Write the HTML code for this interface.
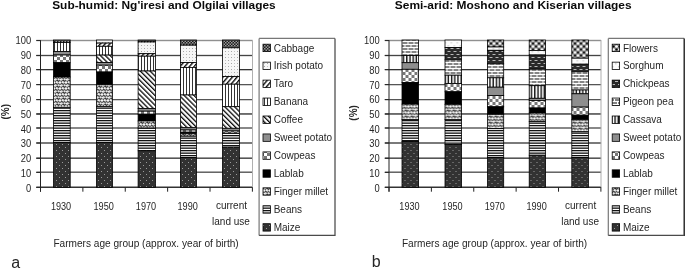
<!DOCTYPE html>
<html><head><meta charset="utf-8"><style>
html,body{margin:0;padding:0;background:#fff;}
svg{display:block;filter:grayscale(1);}
text{font-family:"Liberation Sans", sans-serif;fill:#262626;}
.b{fill:#0a0a0a;}
</style></head><body>
<svg width="685" height="268" viewBox="0 0 685 268" xmlns="http://www.w3.org/2000/svg">
<defs>
<pattern id="maize" patternUnits="userSpaceOnUse" width="6" height="6">
  <rect width="6" height="6" fill="#323232"/>
  <rect x="2" y="0" width="1" height="1" fill="#9a9a9a"/>
  <rect x="5" y="3" width="1" height="1" fill="#9a9a9a"/>
</pattern>
<pattern id="beans" patternUnits="userSpaceOnUse" width="5" height="5">
  <rect width="5" height="5" fill="#fff"/>
  <rect x="0" y="0" width="5" height="1.3" fill="#111"/>
  <rect x="0" y="2.5" width="5" height="1.3" fill="#111"/>
</pattern>
<pattern id="millet" patternUnits="userSpaceOnUse" width="6" height="6">
  <rect width="6" height="6" fill="#333"/>
  <ellipse cx="1.4" cy="1.5" rx="1.55" ry="1.2" transform="rotate(-30 1.4 1.5)" fill="#f6f6f6"/>
  <ellipse cx="4.6" cy="1.3" rx="1.3" ry="1.1" transform="rotate(20 4.6 1.3)" fill="#e4e4e4"/>
  <ellipse cx="0" cy="4.5" rx="1.4" ry="1.3" fill="#f6f6f6"/>
  <ellipse cx="6" cy="4.5" rx="1.4" ry="1.3" fill="#f6f6f6"/>
  <ellipse cx="3.1" cy="4.4" rx="1.5" ry="1.15" transform="rotate(35 3.1 4.4)" fill="#f0f0f0"/>
  <circle cx="1.9" cy="2.0" r="0.5" fill="#999"/>
  <circle cx="3.6" cy="5.0" r="0.45" fill="#999"/>
</pattern>
<pattern id="cowpeas" patternUnits="userSpaceOnUse" width="6" height="6">
  <rect width="6" height="6" fill="#fff"/>
  <rect x="0" y="0" width="3" height="3" fill="#777"/>
  <rect x="3" y="3" width="3" height="3" fill="#777"/>
</pattern>
<pattern id="sweet" patternUnits="userSpaceOnUse" width="4" height="4">
  <rect width="4" height="4" fill="#8e8e8e"/>
</pattern>
<pattern id="coffee" patternUnits="userSpaceOnUse" width="3.45" height="10" patternTransform="rotate(-45)">
  <rect width="3.45" height="10" fill="#fff"/>
  <rect x="0" y="0" width="1.3" height="10" fill="#0a0a0a"/>
</pattern>
<pattern id="taro" patternUnits="userSpaceOnUse" width="3.6" height="10" patternTransform="rotate(40)">
  <rect width="3.6" height="10" fill="#fff"/>
  <rect x="0" y="0" width="1.4" height="10" fill="#0a0a0a"/>
</pattern>
<pattern id="banana" patternUnits="userSpaceOnUse" width="6" height="4">
  <rect width="6" height="4" fill="#fff"/>
  <rect x="0" y="0" width="1" height="4" fill="#333"/>
  <rect x="3" y="0" width="1" height="4" fill="#333"/>
</pattern>
<pattern id="cassava" patternUnits="userSpaceOnUse" width="6.4" height="4">
  <rect width="6.4" height="4" fill="#fff"/>
  <rect x="0" y="0" width="1.4" height="4" fill="#111"/>
  <rect x="3.2" y="0" width="1.4" height="4" fill="#111"/>
</pattern>
<pattern id="irish" patternUnits="userSpaceOnUse" width="6" height="6">
  <rect width="6" height="6" fill="#f6f6f6"/>
  <rect x="0" y="0" width="1" height="1" fill="#a4a4a4"/>
  <rect x="3" y="3" width="1" height="1" fill="#a4a4a4"/>
  <rect x="3" y="0" width="1" height="1" fill="#c4c4c4"/>
  <rect x="0" y="3" width="1" height="1" fill="#c4c4c4"/>
</pattern>
<pattern id="sorghum" patternUnits="userSpaceOnUse" width="6" height="6">
  <rect width="6" height="6" fill="#fbfbfb"/>
  <rect x="0" y="0" width="1.5" height="1.5" fill="#d4d4d4"/>
  <rect x="3" y="3" width="1.5" height="1.5" fill="#d4d4d4"/>
</pattern>
<pattern id="cabbage" patternUnits="userSpaceOnUse" width="3" height="3">
  <rect width="3" height="3" fill="#1c1c1c"/>
  <rect x="0" y="0" width="1.5" height="1.5" fill="#9a9a9a"/>
  <rect x="1.5" y="1.5" width="1.5" height="1.5" fill="#9a9a9a"/>
</pattern>
<pattern id="flowers" patternUnits="userSpaceOnUse" width="6" height="6">
  <rect width="6" height="6" fill="#808080"/>
  <circle cx="1.5" cy="1.5" r="1.35" fill="#fff"/>
  <circle cx="4.5" cy="4.5" r="1.35" fill="#fff"/>
  <circle cx="4.5" cy="1.5" r="1.1" fill="#000"/>
  <circle cx="1.5" cy="4.5" r="1.1" fill="#000"/>
</pattern>
<pattern id="chick" patternUnits="userSpaceOnUse" width="6" height="6">
  <rect width="6" height="6" fill="#2a2a2a"/>
  <rect x="0" y="0" width="3" height="1" fill="#b8b8b8"/>
  <rect x="3" y="3" width="3" height="1" fill="#b8b8b8"/>
</pattern>
<pattern id="pigeon" patternUnits="userSpaceOnUse" width="6" height="6">
  <rect width="6" height="6" fill="#fff"/>
  <rect x="0" y="0" width="5" height="2" fill="#858585"/>
  <rect x="0" y="3" width="2" height="2" fill="#858585"/>
  <rect x="3" y="3" width="3" height="2" fill="#858585"/>
</pattern>
<pattern id="lablab" patternUnits="userSpaceOnUse" width="4" height="4">
  <rect width="4" height="4" fill="#000"/>
</pattern>
</defs>
<rect width="685" height="268" fill="#fff"/>
<g transform="translate(0,0)">
<rect x="36.3" y="40" width="216.3" height="1" fill="#909090"/>
<rect x="36.3" y="39" width="216.3" height="1" fill="#e8e8e8"/>
<rect x="36.3" y="41" width="216.3" height="1" fill="#e8e8e8"/>
<rect x="36.3" y="55" width="216.3" height="1" fill="#444"/>
<rect x="36.3" y="54" width="216.3" height="1" fill="#e0e0e0"/>
<rect x="36.3" y="56" width="216.3" height="1" fill="#e0e0e0"/>
<rect x="36.3" y="69" width="216.3" height="1" fill="#333"/>
<rect x="36.3" y="70" width="216.3" height="1" fill="#c0c0c0"/>
<rect x="36.3" y="84" width="216.3" height="1" fill="#555"/>
<rect x="36.3" y="85" width="216.3" height="1" fill="#d0d0d0"/>
<rect x="36.3" y="99" width="216.3" height="1" fill="#555"/>
<rect x="36.3" y="100" width="216.3" height="1" fill="#d0d0d0"/>
<rect x="36.3" y="113" width="216.3" height="1" fill="#6a6a6a"/>
<rect x="36.3" y="114" width="216.3" height="1" fill="#7a7a7a"/>
<rect x="36.3" y="127" width="216.3" height="1" fill="#888"/>
<rect x="36.3" y="128" width="216.3" height="1" fill="#888"/>
<rect x="36.3" y="142" width="216.3" height="1" fill="#7a7a7a"/>
<rect x="36.3" y="143" width="216.3" height="1" fill="#7a7a7a"/>
<rect x="36.3" y="157" width="216.3" height="1" fill="#999"/>
<rect x="36.3" y="158" width="216.3" height="1" fill="#555"/>
<rect x="36.3" y="171" width="216.3" height="1" fill="#aaa"/>
<rect x="36.3" y="172" width="216.3" height="1" fill="#666"/>
<rect x="36.3" y="186" width="216.3" height="1" fill="#999"/>
<rect x="36.3" y="187" width="216.3" height="1" fill="#333"/>
<line x1="36.3" x2="40.5" y1="40.5" y2="40.5" stroke="#2a2a2a" stroke-width="1"/>
<line x1="36.3" x2="40.5" y1="55.5" y2="55.5" stroke="#2a2a2a" stroke-width="1"/>
<line x1="36.3" x2="40.5" y1="69.5" y2="69.5" stroke="#2a2a2a" stroke-width="1"/>
<line x1="36.3" x2="40.5" y1="84.5" y2="84.5" stroke="#2a2a2a" stroke-width="1"/>
<line x1="36.3" x2="40.5" y1="99.5" y2="99.5" stroke="#2a2a2a" stroke-width="1"/>
<line x1="36.3" x2="40.5" y1="114" y2="114" stroke="#2a2a2a" stroke-width="1"/>
<line x1="36.3" x2="40.5" y1="128" y2="128" stroke="#2a2a2a" stroke-width="1"/>
<line x1="36.3" x2="40.5" y1="143" y2="143" stroke="#2a2a2a" stroke-width="1"/>
<line x1="36.3" x2="40.5" y1="158.3" y2="158.3" stroke="#2a2a2a" stroke-width="1"/>
<line x1="36.3" x2="40.5" y1="172.5" y2="172.5" stroke="#2a2a2a" stroke-width="1"/>
<line x1="36.3" x2="40.5" y1="187.5" y2="187.5" stroke="#2a2a2a" stroke-width="1"/>
<rect x="252" y="40.2" width="1" height="147.1" fill="#b0b0b0"/>
<line x1="40.5" x2="40.5" y1="40.2" y2="191.7" stroke="#222" stroke-width="1"/>
<line x1="40.5" x2="40.5" y1="187.3" y2="191.7" stroke="#222" stroke-width="1"/>
<line x1="82.88" x2="82.88" y1="187.3" y2="191.7" stroke="#222" stroke-width="1"/>
<line x1="125.26" x2="125.26" y1="187.3" y2="191.7" stroke="#222" stroke-width="1"/>
<line x1="167.64" x2="167.64" y1="187.3" y2="191.7" stroke="#222" stroke-width="1"/>
<line x1="210.02" x2="210.02" y1="187.3" y2="191.7" stroke="#222" stroke-width="1"/>
<line x1="252.4" x2="252.4" y1="187.3" y2="191.7" stroke="#222" stroke-width="1"/>
<rect x="53.5" y="40" width="16.7" height="2.5" fill="url(#cabbage)" stroke="#000" stroke-width="0.8"/>
<rect x="53.5" y="42.5" width="16.7" height="9" fill="url(#banana)" stroke="#000" stroke-width="0.8"/>
<rect x="53.5" y="51.5" width="16.7" height="3.5" fill="url(#sweet)" stroke="#000" stroke-width="0.8"/>
<rect x="53.5" y="55" width="16.7" height="7.7" fill="url(#cowpeas)" stroke="#000" stroke-width="0.8"/>
<rect x="53.5" y="62.7" width="16.7" height="14.3" fill="url(#lablab)" stroke="#000" stroke-width="0.8"/>
<rect x="53.5" y="77" width="16.7" height="30.3" fill="url(#millet)" stroke="#000" stroke-width="0.8"/>
<rect x="53.5" y="107.3" width="16.7" height="35.2" fill="url(#beans)" stroke="#000" stroke-width="0.8"/>
<rect x="53.5" y="142.5" width="16.7" height="44.8" fill="url(#maize)" stroke="#000" stroke-width="0.8"/>
<rect x="96.5" y="40" width="15.9" height="3.1" fill="url(#irish)" stroke="#000" stroke-width="0.8"/>
<rect x="96.5" y="43.1" width="15.9" height="3.2" fill="url(#taro)" stroke="#000" stroke-width="0.8"/>
<rect x="96.5" y="46.3" width="15.9" height="8.8" fill="url(#banana)" stroke="#000" stroke-width="0.8"/>
<rect x="96.5" y="55.1" width="15.9" height="7.5" fill="url(#coffee)" stroke="#000" stroke-width="0.8"/>
<rect x="96.5" y="62.6" width="15.9" height="2.6" fill="url(#sweet)" stroke="#000" stroke-width="0.8"/>
<rect x="96.5" y="65.2" width="15.9" height="6.8" fill="url(#cowpeas)" stroke="#000" stroke-width="0.8"/>
<rect x="96.5" y="72" width="15.9" height="12.8" fill="url(#lablab)" stroke="#000" stroke-width="0.8"/>
<rect x="96.5" y="84.8" width="15.9" height="21.9" fill="url(#millet)" stroke="#000" stroke-width="0.8"/>
<rect x="96.5" y="106.7" width="15.9" height="35.8" fill="url(#beans)" stroke="#000" stroke-width="0.8"/>
<rect x="96.5" y="142.5" width="15.9" height="44.8" fill="url(#maize)" stroke="#000" stroke-width="0.8"/>
<rect x="138.1" y="40" width="17.4" height="2" fill="url(#cabbage)" stroke="#000" stroke-width="0.8"/>
<rect x="138.1" y="42" width="17.4" height="11.7" fill="url(#irish)" stroke="#000" stroke-width="0.8"/>
<rect x="138.1" y="53.7" width="17.4" height="2.5" fill="url(#taro)" stroke="#000" stroke-width="0.8"/>
<rect x="138.1" y="56.2" width="17.4" height="14.8" fill="url(#banana)" stroke="#000" stroke-width="0.8"/>
<rect x="138.1" y="71" width="17.4" height="37.6" fill="url(#coffee)" stroke="#000" stroke-width="0.8"/>
<rect x="138.1" y="108.6" width="17.4" height="2.6" fill="url(#sweet)" stroke="#000" stroke-width="0.8"/>
<rect x="138.1" y="111.2" width="17.4" height="3" fill="url(#cowpeas)" stroke="#000" stroke-width="0.8"/>
<rect x="138.1" y="114.2" width="17.4" height="6.8" fill="url(#lablab)" stroke="#000" stroke-width="0.8"/>
<rect x="138.1" y="121" width="17.4" height="7.1" fill="url(#millet)" stroke="#000" stroke-width="0.8"/>
<rect x="138.1" y="128.1" width="17.4" height="22.7" fill="url(#beans)" stroke="#000" stroke-width="0.8"/>
<rect x="138.1" y="150.8" width="17.4" height="36.5" fill="url(#maize)" stroke="#000" stroke-width="0.8"/>
<rect x="180.5" y="40" width="16" height="5.2" fill="url(#cabbage)" stroke="#000" stroke-width="0.8"/>
<rect x="180.5" y="45.2" width="16" height="17.3" fill="url(#irish)" stroke="#000" stroke-width="0.8"/>
<rect x="180.5" y="62.5" width="16" height="4.9" fill="url(#taro)" stroke="#000" stroke-width="0.8"/>
<rect x="180.5" y="67.4" width="16" height="27.6" fill="url(#banana)" stroke="#000" stroke-width="0.8"/>
<rect x="180.5" y="95" width="16" height="32.7" fill="url(#coffee)" stroke="#000" stroke-width="0.8"/>
<rect x="180.5" y="127.7" width="16" height="2.3" fill="url(#sweet)" stroke="#000" stroke-width="0.8"/>
<rect x="180.5" y="130" width="16" height="2.2" fill="url(#cowpeas)" stroke="#000" stroke-width="0.8"/>
<rect x="180.5" y="132.2" width="16" height="1.4" fill="url(#lablab)" stroke="#000" stroke-width="0.8"/>
<rect x="180.5" y="133.6" width="16" height="2.6" fill="url(#millet)" stroke="#000" stroke-width="0.8"/>
<rect x="180.5" y="136.2" width="16" height="21.4" fill="url(#beans)" stroke="#000" stroke-width="0.8"/>
<rect x="180.5" y="157.6" width="16" height="29.7" fill="url(#maize)" stroke="#000" stroke-width="0.8"/>
<rect x="222.5" y="40" width="16.9" height="7.8" fill="url(#cabbage)" stroke="#000" stroke-width="0.8"/>
<rect x="222.5" y="47.8" width="16.9" height="28.8" fill="url(#irish)" stroke="#000" stroke-width="0.8"/>
<rect x="222.5" y="76.6" width="16.9" height="7.6" fill="url(#taro)" stroke="#000" stroke-width="0.8"/>
<rect x="222.5" y="84.2" width="16.9" height="22.5" fill="url(#banana)" stroke="#000" stroke-width="0.8"/>
<rect x="222.5" y="106.7" width="16.9" height="21.6" fill="url(#coffee)" stroke="#000" stroke-width="0.8"/>
<rect x="222.5" y="128.3" width="16.9" height="2.7" fill="url(#sweet)" stroke="#000" stroke-width="0.8"/>
<rect x="222.5" y="131" width="16.9" height="2.2" fill="url(#cowpeas)" stroke="#000" stroke-width="0.8"/>
<rect x="222.5" y="133.2" width="16.9" height="14" fill="url(#beans)" stroke="#000" stroke-width="0.8"/>
<rect x="222.5" y="147.2" width="16.9" height="40.1" fill="url(#maize)" stroke="#000" stroke-width="0.8"/>
<text x="31.1" y="191.5" text-anchor="end" font-size="10.4" textLength="5.2" lengthAdjust="spacingAndGlyphs">0</text>
<text x="31.1" y="176.79" text-anchor="end" font-size="10.4" textLength="10.41" lengthAdjust="spacingAndGlyphs">10</text>
<text x="31.1" y="162.08" text-anchor="end" font-size="10.4" textLength="10.41" lengthAdjust="spacingAndGlyphs">20</text>
<text x="31.1" y="147.37" text-anchor="end" font-size="10.4" textLength="10.41" lengthAdjust="spacingAndGlyphs">30</text>
<text x="31.1" y="132.66" text-anchor="end" font-size="10.4" textLength="10.41" lengthAdjust="spacingAndGlyphs">40</text>
<text x="31.1" y="117.95" text-anchor="end" font-size="10.4" textLength="10.41" lengthAdjust="spacingAndGlyphs">50</text>
<text x="31.1" y="103.24" text-anchor="end" font-size="10.4" textLength="10.41" lengthAdjust="spacingAndGlyphs">60</text>
<text x="31.1" y="88.53" text-anchor="end" font-size="10.4" textLength="10.41" lengthAdjust="spacingAndGlyphs">70</text>
<text x="31.1" y="73.82" text-anchor="end" font-size="10.4" textLength="10.41" lengthAdjust="spacingAndGlyphs">80</text>
<text x="31.1" y="59.11" text-anchor="end" font-size="10.4" textLength="10.41" lengthAdjust="spacingAndGlyphs">90</text>
<text x="31.1" y="44.4" text-anchor="end" font-size="10.4" textLength="15.62" lengthAdjust="spacingAndGlyphs">100</text>
<text x="61.05" y="209.6" text-anchor="middle" font-size="10.4" textLength="20.3" lengthAdjust="spacingAndGlyphs">1930</text>
<text x="103.65" y="209.6" text-anchor="middle" font-size="10.4" textLength="20.3" lengthAdjust="spacingAndGlyphs">1950</text>
<text x="146" y="209.6" text-anchor="middle" font-size="10.4" textLength="20.3" lengthAdjust="spacingAndGlyphs">1970</text>
<text x="187.7" y="209.6" text-anchor="middle" font-size="10.4" textLength="20.3" lengthAdjust="spacingAndGlyphs">1990</text>
<text x="231.45" y="209.3" text-anchor="middle" font-size="10">current</text>
<text x="230.95" y="224.8" text-anchor="middle" font-size="10">land use</text>
<text x="53.4" y="246.8" font-size="10" textLength="185.3" lengthAdjust="spacingAndGlyphs">Farmers age group (approx. year of birth)</text>
</g>
<text x="52.2" y="8.6" font-size="11.8" font-weight="bold" class="b" textLength="223.5" lengthAdjust="spacingAndGlyphs">Sub-humid: Ng&#39;iresi and Olgilai villages</text>
<line x1="259.1" x2="335" y1="38.4" y2="38.4" stroke="#777" stroke-width="1.2"/>
<line x1="259.1" x2="259.1" y1="38.4" y2="235.4" stroke="#777" stroke-width="1.2"/>
<line x1="335" x2="335" y1="38.4" y2="236" stroke="#505050" stroke-width="1.3"/>
<line x1="259.1" x2="335" y1="235.4" y2="235.4" stroke="#4a4a4a" stroke-width="1.3"/>
<rect x="263" y="44.2" width="7.4" height="7.4" fill="url(#cabbage)" stroke="#000" stroke-width="0.8"/>
<text x="273.7" y="51.5" font-size="10">Cabbage</text>
<rect x="263" y="62.15" width="7.4" height="7.4" fill="url(#irish)" stroke="#000" stroke-width="0.8"/>
<text x="273.7" y="69.45" font-size="10">Irish potato</text>
<rect x="263" y="80.1" width="7.4" height="7.4" fill="url(#taro)" stroke="#000" stroke-width="0.8"/>
<text x="273.7" y="87.4" font-size="10">Taro</text>
<rect x="263" y="98.05" width="7.4" height="7.4" fill="url(#banana)" stroke="#000" stroke-width="0.8"/>
<text x="273.7" y="105.35" font-size="10">Banana</text>
<rect x="263" y="116" width="7.4" height="7.4" fill="url(#coffee)" stroke="#000" stroke-width="0.8"/>
<text x="273.7" y="123.3" font-size="10">Coffee</text>
<rect x="263" y="133.95" width="7.4" height="7.4" fill="url(#sweet)" stroke="#000" stroke-width="0.8"/>
<text x="273.7" y="141.25" font-size="10">Sweet potato</text>
<rect x="263" y="151.9" width="7.4" height="7.4" fill="url(#cowpeas)" stroke="#000" stroke-width="0.8"/>
<text x="273.7" y="159.2" font-size="10">Cowpeas</text>
<rect x="263" y="169.85" width="7.4" height="7.4" fill="url(#lablab)" stroke="#000" stroke-width="0.8"/>
<text x="273.7" y="177.15" font-size="10">Lablab</text>
<rect x="263" y="187.8" width="7.4" height="7.4" fill="url(#millet)" stroke="#000" stroke-width="0.8"/>
<text x="273.7" y="195.1" font-size="10">Finger millet</text>
<rect x="263" y="205.75" width="7.4" height="7.4" fill="url(#beans)" stroke="#000" stroke-width="0.8"/>
<text x="273.7" y="213.05" font-size="10">Beans</text>
<rect x="263" y="223.7" width="7.4" height="7.4" fill="url(#maize)" stroke="#000" stroke-width="0.8"/>
<text x="273.7" y="231" font-size="10">Maize</text>
<text x="11.3" y="267.6" font-size="16">a</text>
<text transform="translate(9.3,111.7) rotate(-90)" text-anchor="middle" font-size="10" font-weight="bold">(%)</text>
<g transform="translate(348.5,0)">
<rect x="36.3" y="40" width="216.3" height="1" fill="#909090"/>
<rect x="36.3" y="39" width="216.3" height="1" fill="#e8e8e8"/>
<rect x="36.3" y="41" width="216.3" height="1" fill="#e8e8e8"/>
<rect x="36.3" y="55" width="216.3" height="1" fill="#444"/>
<rect x="36.3" y="54" width="216.3" height="1" fill="#e0e0e0"/>
<rect x="36.3" y="56" width="216.3" height="1" fill="#e0e0e0"/>
<rect x="36.3" y="69" width="216.3" height="1" fill="#333"/>
<rect x="36.3" y="70" width="216.3" height="1" fill="#c0c0c0"/>
<rect x="36.3" y="84" width="216.3" height="1" fill="#555"/>
<rect x="36.3" y="85" width="216.3" height="1" fill="#d0d0d0"/>
<rect x="36.3" y="99" width="216.3" height="1" fill="#555"/>
<rect x="36.3" y="100" width="216.3" height="1" fill="#d0d0d0"/>
<rect x="36.3" y="113" width="216.3" height="1" fill="#6a6a6a"/>
<rect x="36.3" y="114" width="216.3" height="1" fill="#7a7a7a"/>
<rect x="36.3" y="127" width="216.3" height="1" fill="#888"/>
<rect x="36.3" y="128" width="216.3" height="1" fill="#888"/>
<rect x="36.3" y="142" width="216.3" height="1" fill="#7a7a7a"/>
<rect x="36.3" y="143" width="216.3" height="1" fill="#7a7a7a"/>
<rect x="36.3" y="157" width="216.3" height="1" fill="#999"/>
<rect x="36.3" y="158" width="216.3" height="1" fill="#555"/>
<rect x="36.3" y="171" width="216.3" height="1" fill="#aaa"/>
<rect x="36.3" y="172" width="216.3" height="1" fill="#666"/>
<rect x="36.3" y="186" width="216.3" height="1" fill="#999"/>
<rect x="36.3" y="187" width="216.3" height="1" fill="#333"/>
<line x1="36.3" x2="40.5" y1="40.5" y2="40.5" stroke="#2a2a2a" stroke-width="1"/>
<line x1="36.3" x2="40.5" y1="55.5" y2="55.5" stroke="#2a2a2a" stroke-width="1"/>
<line x1="36.3" x2="40.5" y1="69.5" y2="69.5" stroke="#2a2a2a" stroke-width="1"/>
<line x1="36.3" x2="40.5" y1="84.5" y2="84.5" stroke="#2a2a2a" stroke-width="1"/>
<line x1="36.3" x2="40.5" y1="99.5" y2="99.5" stroke="#2a2a2a" stroke-width="1"/>
<line x1="36.3" x2="40.5" y1="114" y2="114" stroke="#2a2a2a" stroke-width="1"/>
<line x1="36.3" x2="40.5" y1="128" y2="128" stroke="#2a2a2a" stroke-width="1"/>
<line x1="36.3" x2="40.5" y1="143" y2="143" stroke="#2a2a2a" stroke-width="1"/>
<line x1="36.3" x2="40.5" y1="158.3" y2="158.3" stroke="#2a2a2a" stroke-width="1"/>
<line x1="36.3" x2="40.5" y1="172.5" y2="172.5" stroke="#2a2a2a" stroke-width="1"/>
<line x1="36.3" x2="40.5" y1="187.5" y2="187.5" stroke="#2a2a2a" stroke-width="1"/>
<rect x="252" y="40.2" width="1" height="147.1" fill="#b0b0b0"/>
<line x1="40.5" x2="40.5" y1="40.2" y2="191.7" stroke="#222" stroke-width="1"/>
<line x1="40.5" x2="40.5" y1="187.3" y2="191.7" stroke="#222" stroke-width="1"/>
<line x1="82.88" x2="82.88" y1="187.3" y2="191.7" stroke="#222" stroke-width="1"/>
<line x1="125.26" x2="125.26" y1="187.3" y2="191.7" stroke="#222" stroke-width="1"/>
<line x1="167.64" x2="167.64" y1="187.3" y2="191.7" stroke="#222" stroke-width="1"/>
<line x1="210.02" x2="210.02" y1="187.3" y2="191.7" stroke="#222" stroke-width="1"/>
<line x1="252.4" x2="252.4" y1="187.3" y2="191.7" stroke="#222" stroke-width="1"/>
<rect x="53.5" y="40" width="16.6" height="15.6" fill="url(#pigeon)" stroke="#000" stroke-width="0.8"/>
<rect x="53.5" y="55.6" width="16.6" height="7.1" fill="url(#cassava)" stroke="#000" stroke-width="0.8"/>
<rect x="53.5" y="62.7" width="16.6" height="6.6" fill="url(#sweet)" stroke="#000" stroke-width="0.8"/>
<rect x="53.5" y="69.3" width="16.6" height="13.3" fill="url(#cowpeas)" stroke="#000" stroke-width="0.8"/>
<rect x="53.5" y="82.6" width="16.6" height="21.5" fill="url(#lablab)" stroke="#000" stroke-width="0.8"/>
<rect x="53.5" y="104.1" width="16.6" height="15.4" fill="url(#millet)" stroke="#000" stroke-width="0.8"/>
<rect x="53.5" y="119.5" width="16.6" height="22" fill="url(#beans)" stroke="#000" stroke-width="0.8"/>
<rect x="53.5" y="141.5" width="16.6" height="45.8" fill="url(#maize)" stroke="#000" stroke-width="0.8"/>
<rect x="96.5" y="40" width="16.6" height="7.4" fill="url(#sorghum)" stroke="#000" stroke-width="0.8"/>
<rect x="96.5" y="47.4" width="16.6" height="12.4" fill="url(#chick)" stroke="#000" stroke-width="0.8"/>
<rect x="96.5" y="59.8" width="16.6" height="15.4" fill="url(#pigeon)" stroke="#000" stroke-width="0.8"/>
<rect x="96.5" y="75.2" width="16.6" height="8.4" fill="url(#cassava)" stroke="#000" stroke-width="0.8"/>
<rect x="96.5" y="83.6" width="16.6" height="8.2" fill="url(#cowpeas)" stroke="#000" stroke-width="0.8"/>
<rect x="96.5" y="91.8" width="16.6" height="12.5" fill="url(#lablab)" stroke="#000" stroke-width="0.8"/>
<rect x="96.5" y="104.3" width="16.6" height="15.1" fill="url(#millet)" stroke="#000" stroke-width="0.8"/>
<rect x="96.5" y="119.4" width="16.6" height="25.1" fill="url(#beans)" stroke="#000" stroke-width="0.8"/>
<rect x="96.5" y="144.5" width="16.6" height="42.8" fill="url(#maize)" stroke="#000" stroke-width="0.8"/>
<rect x="139" y="40" width="16.2" height="7" fill="url(#flowers)" stroke="#000" stroke-width="0.8"/>
<rect x="139" y="47" width="16.2" height="3.3" fill="url(#sorghum)" stroke="#000" stroke-width="0.8"/>
<rect x="139" y="50.3" width="16.2" height="13.5" fill="url(#chick)" stroke="#000" stroke-width="0.8"/>
<rect x="139" y="63.8" width="16.2" height="14" fill="url(#pigeon)" stroke="#000" stroke-width="0.8"/>
<rect x="139" y="77.8" width="16.2" height="9.4" fill="url(#cassava)" stroke="#000" stroke-width="0.8"/>
<rect x="139" y="87.2" width="16.2" height="8.4" fill="url(#sweet)" stroke="#000" stroke-width="0.8"/>
<rect x="139" y="95.6" width="16.2" height="11.2" fill="url(#cowpeas)" stroke="#000" stroke-width="0.8"/>
<rect x="139" y="106.8" width="16.2" height="7.5" fill="url(#lablab)" stroke="#000" stroke-width="0.8"/>
<rect x="139" y="114.3" width="16.2" height="14.4" fill="url(#millet)" stroke="#000" stroke-width="0.8"/>
<rect x="139" y="128.7" width="16.2" height="28.8" fill="url(#beans)" stroke="#000" stroke-width="0.8"/>
<rect x="139" y="157.5" width="16.2" height="29.8" fill="url(#maize)" stroke="#000" stroke-width="0.8"/>
<rect x="180.7" y="40" width="16.4" height="10.5" fill="url(#flowers)" stroke="#000" stroke-width="0.8"/>
<rect x="180.7" y="50.5" width="16.4" height="4.5" fill="url(#sorghum)" stroke="#000" stroke-width="0.8"/>
<rect x="180.7" y="55" width="16.4" height="14.2" fill="url(#chick)" stroke="#000" stroke-width="0.8"/>
<rect x="180.7" y="69.2" width="16.4" height="16.5" fill="url(#pigeon)" stroke="#000" stroke-width="0.8"/>
<rect x="180.7" y="85.7" width="16.4" height="12.6" fill="url(#cassava)" stroke="#000" stroke-width="0.8"/>
<rect x="180.7" y="98.3" width="16.4" height="2.2" fill="url(#sweet)" stroke="#000" stroke-width="0.8"/>
<rect x="180.7" y="100.5" width="16.4" height="7.5" fill="url(#cowpeas)" stroke="#000" stroke-width="0.8"/>
<rect x="180.7" y="108" width="16.4" height="5" fill="url(#lablab)" stroke="#000" stroke-width="0.8"/>
<rect x="180.7" y="113" width="16.4" height="8.5" fill="url(#millet)" stroke="#000" stroke-width="0.8"/>
<rect x="180.7" y="121.5" width="16.4" height="33.7" fill="url(#beans)" stroke="#000" stroke-width="0.8"/>
<rect x="180.7" y="155.2" width="16.4" height="32.1" fill="url(#maize)" stroke="#000" stroke-width="0.8"/>
<rect x="223.3" y="40" width="16.6" height="18.2" fill="url(#flowers)" stroke="#000" stroke-width="0.8"/>
<rect x="223.3" y="58.2" width="16.6" height="6" fill="url(#sorghum)" stroke="#000" stroke-width="0.8"/>
<rect x="223.3" y="64.2" width="16.6" height="7.5" fill="url(#chick)" stroke="#000" stroke-width="0.8"/>
<rect x="223.3" y="71.7" width="16.6" height="18.3" fill="url(#pigeon)" stroke="#000" stroke-width="0.8"/>
<rect x="223.3" y="90" width="16.6" height="3.8" fill="url(#cassava)" stroke="#000" stroke-width="0.8"/>
<rect x="223.3" y="93.8" width="16.6" height="13.3" fill="url(#sweet)" stroke="#000" stroke-width="0.8"/>
<rect x="223.3" y="107.1" width="16.6" height="8.1" fill="url(#cowpeas)" stroke="#000" stroke-width="0.8"/>
<rect x="223.3" y="115.2" width="16.6" height="4.5" fill="url(#lablab)" stroke="#000" stroke-width="0.8"/>
<rect x="223.3" y="119.7" width="16.6" height="12.1" fill="url(#millet)" stroke="#000" stroke-width="0.8"/>
<rect x="223.3" y="131.8" width="16.6" height="25.7" fill="url(#beans)" stroke="#000" stroke-width="0.8"/>
<rect x="223.3" y="157.5" width="16.6" height="29.8" fill="url(#maize)" stroke="#000" stroke-width="0.8"/>
<text x="31.1" y="191.5" text-anchor="end" font-size="10.4" textLength="5.2" lengthAdjust="spacingAndGlyphs">0</text>
<text x="31.1" y="176.79" text-anchor="end" font-size="10.4" textLength="10.41" lengthAdjust="spacingAndGlyphs">10</text>
<text x="31.1" y="162.08" text-anchor="end" font-size="10.4" textLength="10.41" lengthAdjust="spacingAndGlyphs">20</text>
<text x="31.1" y="147.37" text-anchor="end" font-size="10.4" textLength="10.41" lengthAdjust="spacingAndGlyphs">30</text>
<text x="31.1" y="132.66" text-anchor="end" font-size="10.4" textLength="10.41" lengthAdjust="spacingAndGlyphs">40</text>
<text x="31.1" y="117.95" text-anchor="end" font-size="10.4" textLength="10.41" lengthAdjust="spacingAndGlyphs">50</text>
<text x="31.1" y="103.24" text-anchor="end" font-size="10.4" textLength="10.41" lengthAdjust="spacingAndGlyphs">60</text>
<text x="31.1" y="88.53" text-anchor="end" font-size="10.4" textLength="10.41" lengthAdjust="spacingAndGlyphs">70</text>
<text x="31.1" y="73.82" text-anchor="end" font-size="10.4" textLength="10.41" lengthAdjust="spacingAndGlyphs">80</text>
<text x="31.1" y="59.11" text-anchor="end" font-size="10.4" textLength="10.41" lengthAdjust="spacingAndGlyphs">90</text>
<text x="31.1" y="44.4" text-anchor="end" font-size="10.4" textLength="15.62" lengthAdjust="spacingAndGlyphs">100</text>
<text x="61" y="209.6" text-anchor="middle" font-size="10.4" textLength="20.3" lengthAdjust="spacingAndGlyphs">1930</text>
<text x="104" y="209.6" text-anchor="middle" font-size="10.4" textLength="20.3" lengthAdjust="spacingAndGlyphs">1950</text>
<text x="146.3" y="209.6" text-anchor="middle" font-size="10.4" textLength="20.3" lengthAdjust="spacingAndGlyphs">1970</text>
<text x="188.1" y="209.6" text-anchor="middle" font-size="10.4" textLength="20.3" lengthAdjust="spacingAndGlyphs">1990</text>
<text x="232.1" y="209.3" text-anchor="middle" font-size="10">current</text>
<text x="231.6" y="224.8" text-anchor="middle" font-size="10">land use</text>
<text x="53.4" y="246.8" font-size="10" textLength="185.3" lengthAdjust="spacingAndGlyphs">Farmers age group (approx. year of birth)</text>
</g>
<text x="394.8" y="8.6" font-size="11.8" font-weight="bold" class="b" textLength="236.8" lengthAdjust="spacingAndGlyphs">Semi-arid: Moshono and Kiserian villages</text>
<line x1="608.3" x2="684.2" y1="38.4" y2="38.4" stroke="#777" stroke-width="1.2"/>
<line x1="608.3" x2="608.3" y1="38.4" y2="235.4" stroke="#777" stroke-width="1.2"/>
<line x1="684.2" x2="684.2" y1="38.4" y2="236" stroke="#111" stroke-width="1.3"/>
<line x1="608.3" x2="684.2" y1="235.4" y2="235.4" stroke="#4a4a4a" stroke-width="1.3"/>
<rect x="612.2" y="44.2" width="7.4" height="7.4" fill="url(#flowers)" stroke="#000" stroke-width="0.8"/>
<text x="622.9" y="51.5" font-size="10">Flowers</text>
<rect x="612.2" y="62.15" width="7.4" height="7.4" fill="url(#sorghum)" stroke="#000" stroke-width="0.8"/>
<text x="622.9" y="69.45" font-size="10">Sorghum</text>
<rect x="612.2" y="80.1" width="7.4" height="7.4" fill="url(#chick)" stroke="#000" stroke-width="0.8"/>
<text x="622.9" y="87.4" font-size="10">Chickpeas</text>
<rect x="612.2" y="98.05" width="7.4" height="7.4" fill="url(#pigeon)" stroke="#000" stroke-width="0.8"/>
<text x="622.9" y="105.35" font-size="10">Pigeon pea</text>
<rect x="612.2" y="116" width="7.4" height="7.4" fill="url(#cassava)" stroke="#000" stroke-width="0.8"/>
<text x="622.9" y="123.3" font-size="10">Cassava</text>
<rect x="612.2" y="133.95" width="7.4" height="7.4" fill="url(#sweet)" stroke="#000" stroke-width="0.8"/>
<text x="622.9" y="141.25" font-size="10">Sweet potato</text>
<rect x="612.2" y="151.9" width="7.4" height="7.4" fill="url(#cowpeas)" stroke="#000" stroke-width="0.8"/>
<text x="622.9" y="159.2" font-size="10">Cowpeas</text>
<rect x="612.2" y="169.85" width="7.4" height="7.4" fill="url(#lablab)" stroke="#000" stroke-width="0.8"/>
<text x="622.9" y="177.15" font-size="10">Lablab</text>
<rect x="612.2" y="187.8" width="7.4" height="7.4" fill="url(#millet)" stroke="#000" stroke-width="0.8"/>
<text x="622.9" y="195.1" font-size="10">Finger millet</text>
<rect x="612.2" y="205.75" width="7.4" height="7.4" fill="url(#beans)" stroke="#000" stroke-width="0.8"/>
<text x="622.9" y="213.05" font-size="10">Beans</text>
<rect x="612.2" y="223.7" width="7.4" height="7.4" fill="url(#maize)" stroke="#000" stroke-width="0.8"/>
<text x="622.9" y="231" font-size="10">Maize</text>
<text x="371.8" y="266.7" font-size="16">b</text>
<text transform="translate(357.3,112.9) rotate(-90)" text-anchor="middle" font-size="10" font-weight="bold">(%)</text>
</svg>
</body></html>
